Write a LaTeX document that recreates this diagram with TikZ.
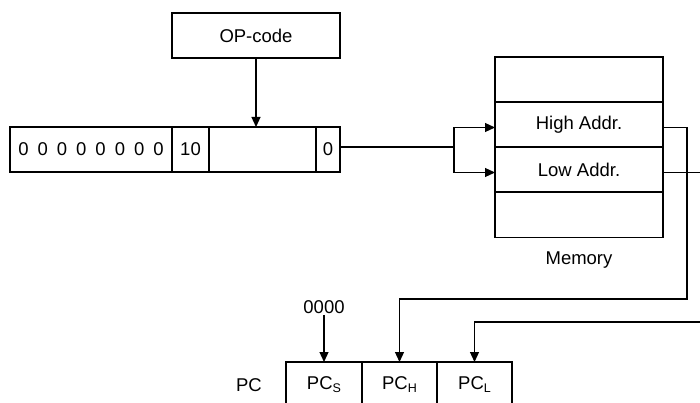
\documentclass[tikz,border=0pt]{standalone}
\usepackage{fontspec}
\setmainfont{Liberation Sans}
\usetikzlibrary{arrows.meta}
\newcommand{\subsc}[1]{\raisebox{-0.3ex}{\fontsize{12.5}{12.5}\selectfont #1}}
\begin{document}
\begin{tikzpicture}[x=1pt,y=-1pt,
  font=\fontsize{18.5}{21}\selectfont,
  cell/.style={draw, line width=1.8pt, inner sep=0pt, outer sep=0pt, minimum height=45pt},
  conn/.style={line width=1.2pt},
  arr/.style={conn, -{Triangle[length=10pt,width=9pt]}},
  lbl/.style={inner sep=1pt}]
\useasboundingbox (0,0) rectangle (700,403);
\clip (0,0) rectangle (700,403);
% OP-code
\node[cell, minimum width=168pt] (op) at (256,35.5) {OP-code};
% instruction register
\node[cell, minimum width=162pt] (zz) at (91,149.5) {0\hspace{9pt}0\hspace{9pt}0\hspace{9pt}0\hspace{9pt}0\hspace{9pt}0\hspace{9pt}0\hspace{9pt}0};
\node[cell, minimum width=37pt] (ten) at (190.5,149.5) {10};
\node[cell, minimum width=107pt] (blank) at (262.5,149.5) {};
\node[cell, minimum width=24pt] (zero) at (328,149.5) {0};
% memory
\node[cell, minimum width=168pt] (m0) at (579,79.5) {};
\node[cell, minimum width=168pt] (hi) at (579,124.5) {High Addr.};
\node[cell, minimum width=168pt] (lo) at (579,169.5) {Low Addr.};
\node[cell, minimum width=168pt] (m3) at (579,215) {};
\node[lbl] (mem) at (579,260) {Memory};
% PC
\node[lbl] (pc) at (249,385) {PC};
\node[cell, minimum width=76pt] (pcs) at (324,384.5) {PC\subsc{S}};
\node[cell, minimum width=75pt] (pch) at (399.5,384.5) {PC\subsc{H}};
\node[cell, minimum width=75pt] (pcl) at (474.5,384.5) {PC\subsc{L}};
\node[lbl] (z4) at (324,307) {0000};
% connectors
\draw[arr] (op.south) -- (op.south |- blank.north);
\coordinate (j) at (454,147);
\draw[conn] (zero.east |- j) -- (j);
\draw[arr] (j) |- ([yshift=-3pt]hi.west);
\draw[arr] (j) |- ([yshift=-3pt]lo.west);
\coordinate (hr) at (687,299);
\draw[arr] ([yshift=-3pt]hi.east) -| (hr) -| (pch.north);
\coordinate (lr) at (720,322);
\draw[arr] ([yshift=-3pt]lo.east) -| (lr) -| (pcl.north);
\draw[arr] (z4.south) -- (pcs.north);
\end{tikzpicture}
\end{document}
